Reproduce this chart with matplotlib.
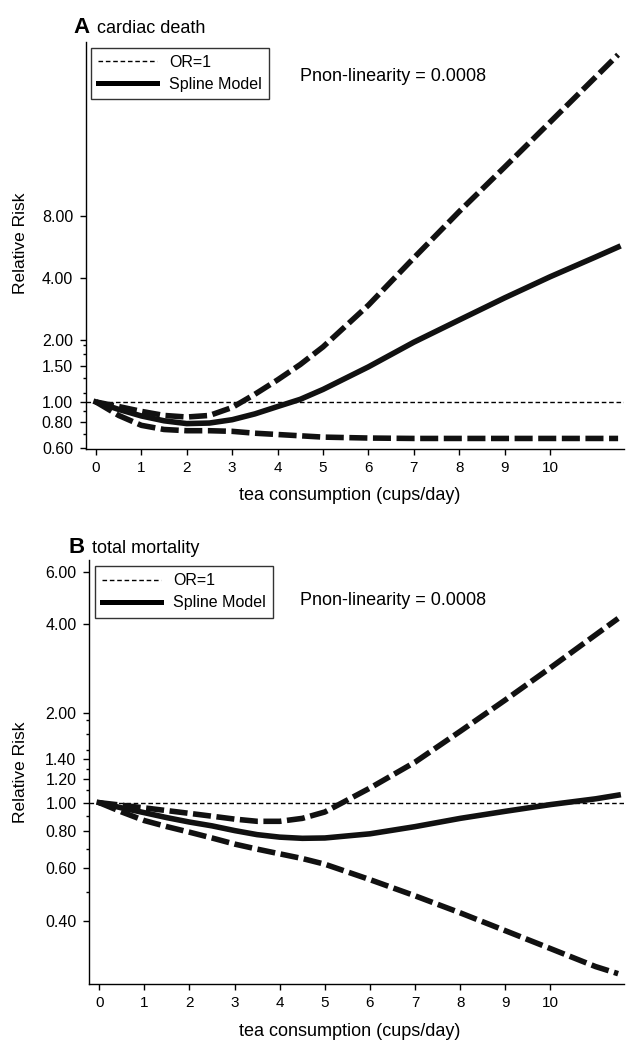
import matplotlib
matplotlib.use("Agg")
import matplotlib.pyplot as plt
from matplotlib.lines import Line2D
from matplotlib.ticker import NullFormatter

plt.rcParams["font.family"] = ["Liberation Sans", "DejaVu Sans"]

# ----------
#  DATA
# ----------
cups = [0, 0.5, 1, 1.5, 2, 2.5, 3, 3.5, 4, 4.5, 5, 6, 7, 8, 9, 10, 11, 11.5]

# A: cardiac death
a_spline = [1.0, 0.92, 0.855, 0.81, 0.785, 0.79, 0.82, 0.875, 0.95, 1.03,
            1.15, 1.48, 1.95, 2.5, 3.2, 4.05, 5.05, 5.65]
a_upper = [1.0, 0.95, 0.90, 0.86, 0.845, 0.86, 0.94, 1.09, 1.28, 1.52,
           1.85, 2.95, 5.0, 8.4, 13.8, 22.8, 37.7, 48.5]
a_lower = [1.0, 0.86, 0.77, 0.735, 0.725, 0.725, 0.72, 0.705, 0.695, 0.685,
           0.675, 0.668, 0.665, 0.665, 0.665, 0.665, 0.665, 0.665]

# B: total mortality
b_spline = [1.0, 0.96, 0.925, 0.89, 0.86, 0.835, 0.805, 0.78, 0.765, 0.758,
            0.76, 0.785, 0.83, 0.885, 0.935, 0.985, 1.03, 1.06]
b_upper = [1.0, 0.98, 0.96, 0.94, 0.92, 0.90, 0.88, 0.865, 0.865, 0.885,
           0.93, 1.12, 1.37, 1.74, 2.22, 2.85, 3.68, 4.18]
b_lower = [1.0, 0.93, 0.87, 0.83, 0.795, 0.76, 0.725, 0.697, 0.672, 0.648,
           0.62, 0.55, 0.485, 0.425, 0.37, 0.322, 0.28, 0.265]

x_ticks = list(range(0, 11))
a_yticks = [0.6, 0.8, 1.0, 1.5, 2.0, 4.0, 8.0]
a_yminor = [0.7, 0.9, 1.1, 1.3, 1.7, 1.9]
b_yticks = [0.4, 0.6, 0.8, 1.0, 1.2, 1.4, 2.0, 4.0, 6.0]
b_yminor = [0.5, 0.7, 0.9, 1.1, 1.3, 1.5, 1.7, 1.9]

p_text = "Pnon-linearity = 0.0008"

W, H = 626, 1041


def px_axes(fig, left, top, right, bottom):
    return fig.add_axes([left / W, 1 - bottom / H,
                         (right - left) / W, (bottom - top) / H])


def draw_panel(ax, spline, upper, lower, yticks, yminor, ylim, legend_xy, p_xy):
    ax.axhline(1.0, color="black", lw=1.0, dashes=(3.3, 2.0), zorder=2)
    for ci in (upper, lower):
        ax.plot(cups, ci, color="#111111", lw=4, dashes=(3.25, 1.0),
                solid_capstyle="butt", zorder=3)
    ax.plot(cups, spline, color="#111111", lw=4, zorder=4)

    ax.set_yscale("log")
    ax.set_ylim(*ylim)
    ax.set_xlim(-0.22, 11.63)
    ax.set_yticks(yticks)
    ax.set_yticklabels(["%.2f" % v for v in yticks])
    ax.set_yticks(yminor, minor=True)
    ax.yaxis.set_minor_formatter(NullFormatter())
    ax.set_xticks(x_ticks)
    ax.set_xticklabels([str(v) for v in x_ticks])
    ax.xaxis.set_minor_locator(matplotlib.ticker.NullLocator())

    for s in ("top", "right"):
        ax.spines[s].set_visible(False)
    for s in ("left", "bottom"):
        ax.spines[s].set_linewidth(1.0)
    ax.tick_params(axis="y", which="major", direction="out", length=4.3,
                   width=1.0, labelsize=11.5, pad=5)
    ax.tick_params(axis="y", which="minor", direction="out", length=2.2,
                   width=1.0)
    ax.tick_params(axis="x", which="major", direction="out", length=4.3,
                   width=1.0, labelsize=11, pad=4)

    handles = [
        Line2D([], [], color="black", lw=1.0, dashes=(3.3, 2.0)),
        Line2D([], [], color="black", lw=3.6),
    ]
    leg = ax.legend(handles, ["OR=1", "Spline Model"], loc="upper left",
                    bbox_to_anchor=legend_xy, borderaxespad=0, fontsize=11.5,
                    frameon=True, fancybox=False, handlelength=3.7,
                    handletextpad=0.75, labelspacing=0.45, borderpad=0.45)
    leg.get_frame().set_edgecolor("black")
    leg.get_frame().set_linewidth(1.0)

    ax.text(p_xy[0], p_xy[1], p_text, transform=ax.transAxes,
            fontsize=13, ha="left", va="center")


fig = plt.figure(figsize=(W / 100, H / 100), dpi=100)

ax_a = px_axes(fig, 86, 42, 624, 449.3)
draw_panel(ax_a, a_spline, a_upper, a_lower, a_yticks, a_yminor,
           (0.589, 55.9), (0.0093, 0.986), (0.398, 0.9165))

ax_b = px_axes(fig, 89.3, 560, 624, 984.3)
draw_panel(ax_b, b_spline, b_upper, b_lower, b_yticks, b_yminor,
           (0.244, 6.58), (0.0107, 0.986), (0.394, 0.9057))

# panel titles
fig.text(73 / W, 1 - 33.3 / H, "A", fontsize=16, fontweight="bold",
         ha="left", va="baseline")
fig.text(96.7 / W, 1 - 33.3 / H, "cardiac death", fontsize=13,
         ha="left", va="baseline")
fig.text(68.3 / W, 1 - 553.3 / H, "B", fontsize=16, fontweight="bold",
         ha="left", va="baseline")
fig.text(91.7 / W, 1 - 553.3 / H, "total mortality", fontsize=13,
         ha="left", va="baseline")

# axis labels
fig.text(20.7 / W, 1 - 243 / H, "Relative Risk", rotation=90, fontsize=12.5,
         ha="center", va="center")
fig.text(21 / W, 1 - 772 / H, "Relative Risk", rotation=90, fontsize=12.5,
         ha="center", va="center")
fig.text(349.7 / W, 1 - 495 / H, "tea consumption (cups/day)", fontsize=13,
         ha="center", va="center")
fig.text(349.7 / W, 1 - 1031.7 / H, "tea consumption (cups/day)", fontsize=13,
         ha="center", va="center")

fig.savefig("out.png", dpi=100)
